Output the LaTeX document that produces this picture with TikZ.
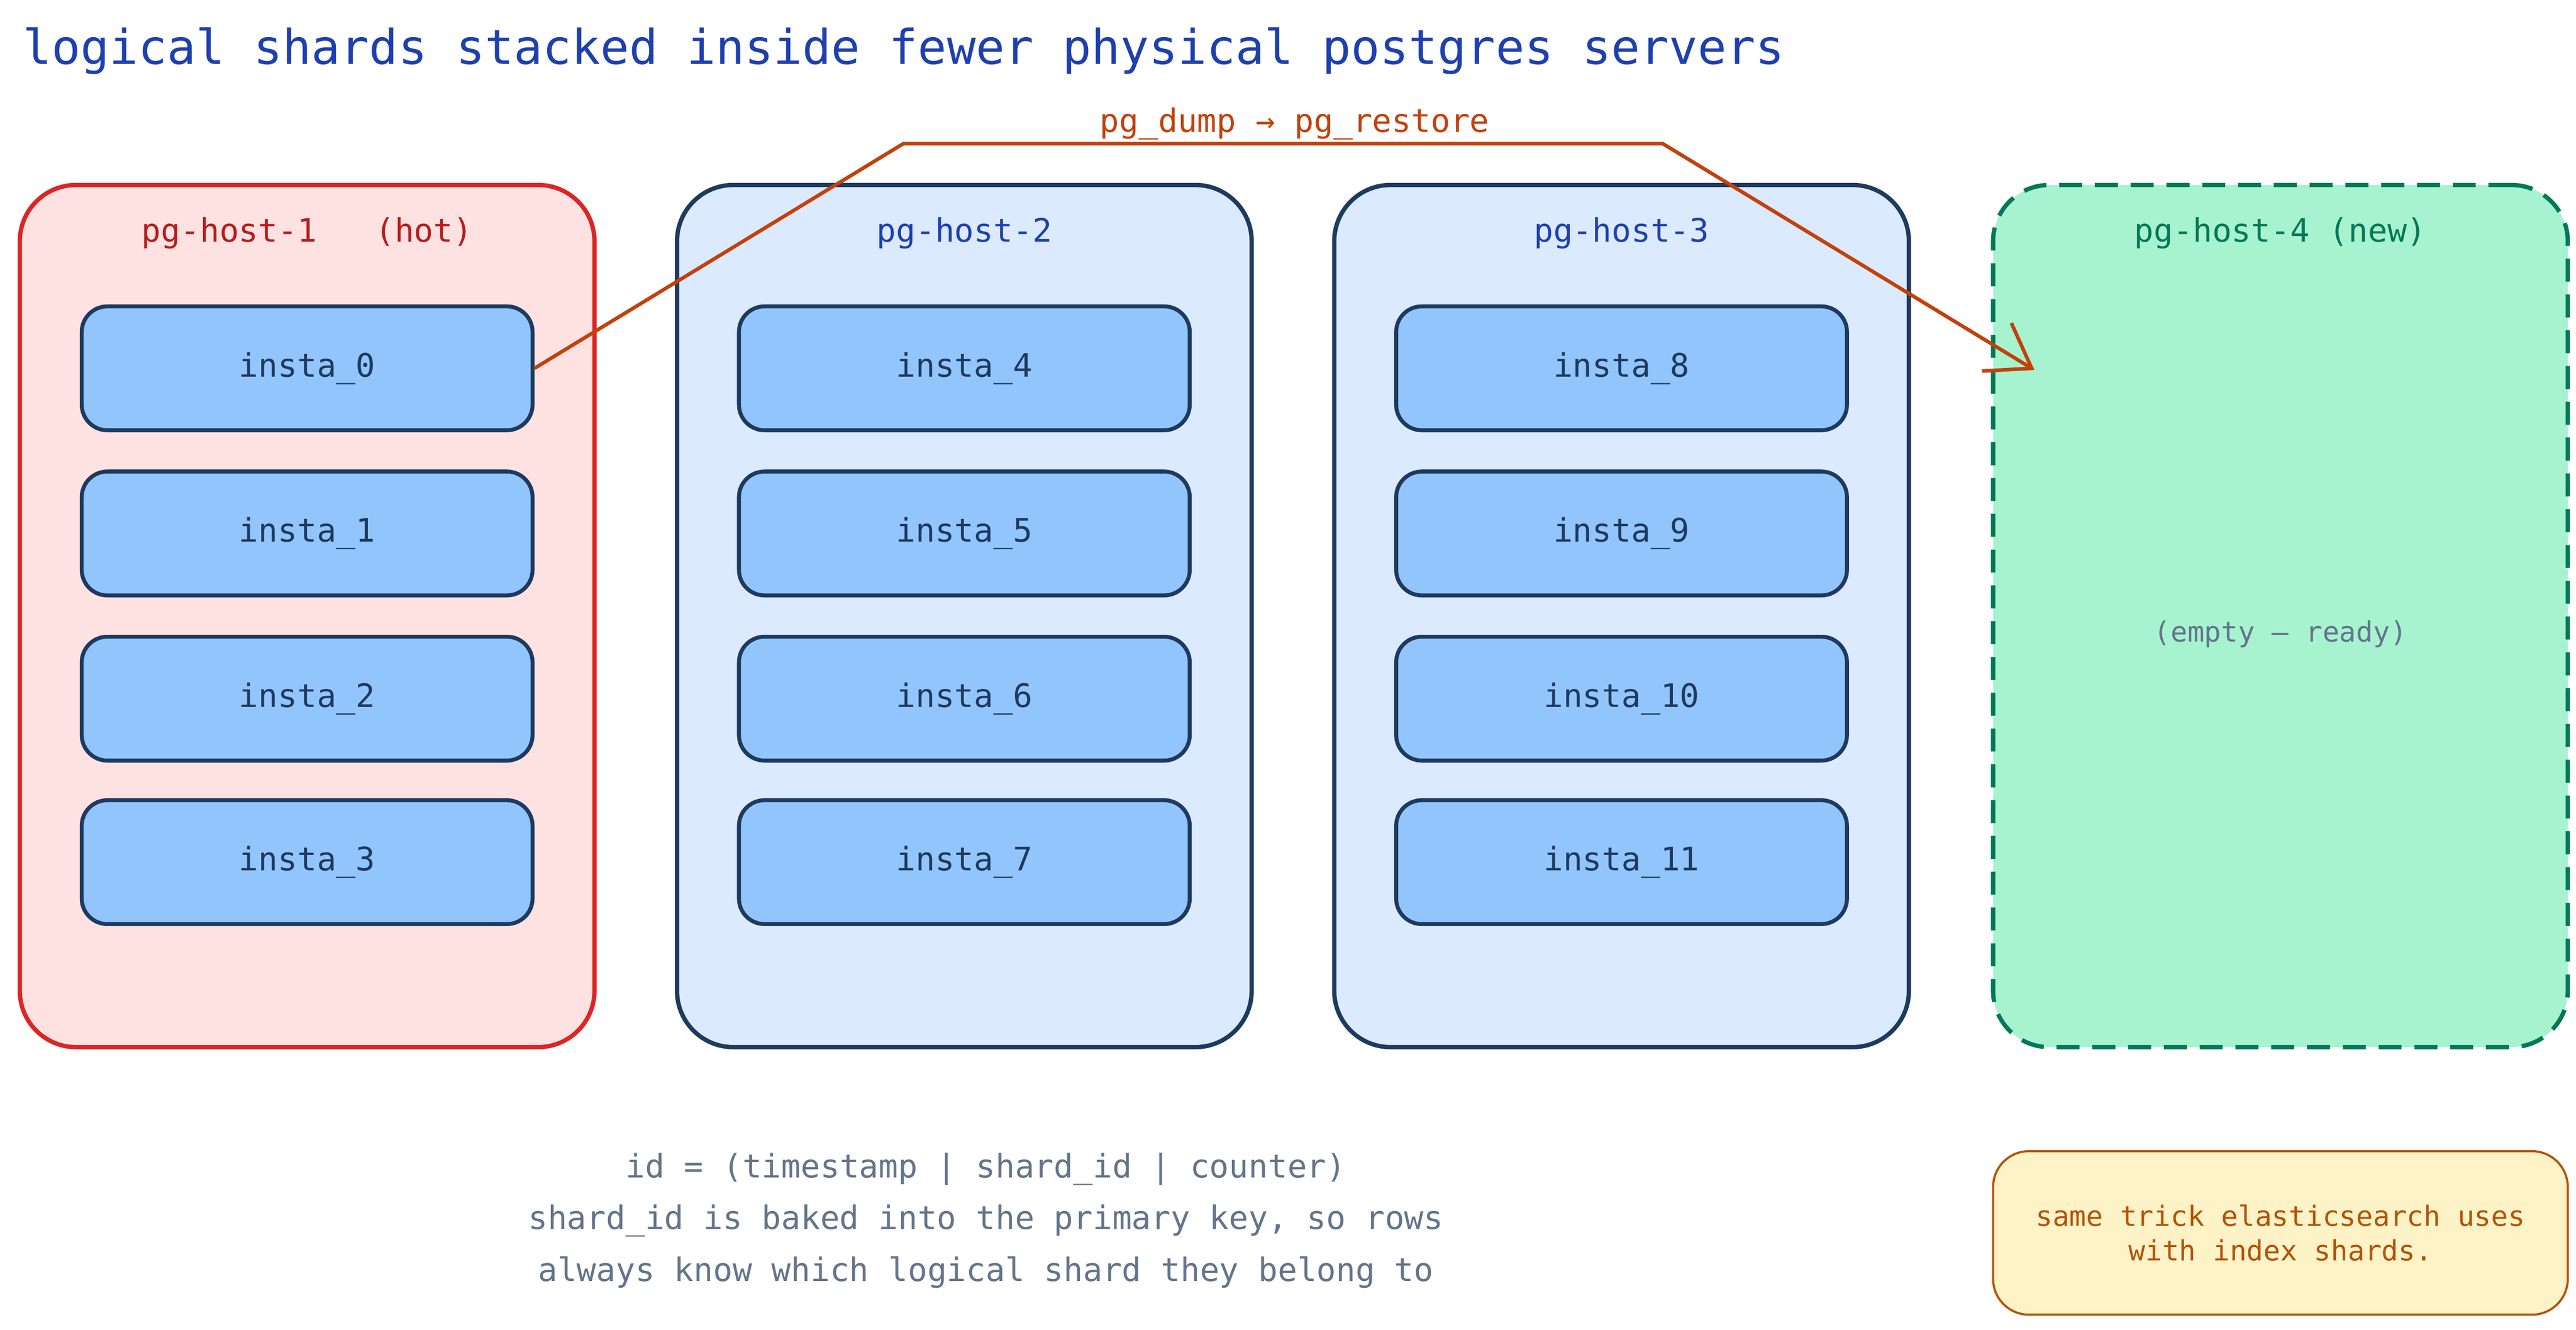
\documentclass[tikz,border=0pt]{standalone}
\usepackage{fontspec}
\setmainfont{DejaVu Sans Mono}
\usetikzlibrary{arrows.meta}
\definecolor{navy}{HTML}{1E3A5F}
\definecolor{ttl}{HTML}{1E40AF}
\definecolor{hotf}{HTML}{FEE2E2}\definecolor{hots}{HTML}{DC2626}\definecolor{hott}{HTML}{B91C1C}
\definecolor{hf}{HTML}{DBEAFE}\definecolor{inf}{HTML}{93C5FD}
\definecolor{newf}{HTML}{A7F3D0}\definecolor{news}{HTML}{047857}
\definecolor{arr}{HTML}{C2410C}\definecolor{gry}{HTML}{64748B}
\definecolor{notef}{HTML}{FEF3C7}\definecolor{notes}{HTML}{B45309}
\begin{document}
\begin{tikzpicture}[x=0.0323cm,y=-0.0323cm,
 host/.style={draw=navy,fill=hf,line width=2.4pt,rounded corners=1.1cm,minimum width=348*0.0323cm,minimum height=522*0.0323cm,inner sep=0},
 shard/.style={draw=navy,fill=inf,line width=2.2pt,rounded corners=0.5cm,minimum width=273*0.0323cm,minimum height=75*0.0323cm,inner sep=0,text=navy,font=\fontsize{18}{20}\selectfont},
 hl/.style={font=\fontsize{18}{20}\selectfont,text=ttl}]
\useasboundingbox (0,0) rectangle (1560,805);
\node[anchor=west,text=ttl,font=\fontsize{26.7}{30}\selectfont] (title) at (10,31) {logical shards stacked inside fewer physical postgres servers};
\node[host,draw=hots,fill=hotf] (h1) at (186,373) {};
\node[host] (h2) at (584,373) {};
\node[host] (h3) at (982,373) {};
\node[host,draw=news,fill=newf,dashed,dash pattern=on 0.45cm off 0.25cm] (h4) at (1381,373) {};
\node[hl,text=hott] (l1) at (186,141) {pg-host-1\ \ \ (hot)};
\node[hl] (l2) at (584,141) {pg-host-2};
\node[hl] (l3) at (982,141) {pg-host-3};
\node[hl,text=news] (l4) at (1381,141) {pg-host-4 (new)};
\foreach \c/\hx in {0/186,1/584,2/982}{
 \foreach \r/\yy in {0/223,1/323,2/423,3/522}{
  \pgfmathtruncatemacro\n{\c*4+\r}
  \node[shard] (s\n) at (\hx,\yy) {insta\_\n};
 }}
\node[text=gry,font=\fontsize{15.6}{18}\selectfont] (empty) at (1381,384) {(empty — ready)};
\coordinate (tgt) at (1232,224);
\draw[arr,line width=2pt,-{Straight Barb[length=0.8cm,width=1.1cm]}] (s0.east) -- (547,87) -- (1007,87) -- (tgt);
\node[text=arr,font=\fontsize{18}{20}\selectfont] (al) at (784,75) {pg\_dump → pg\_restore};
\node[text=gry,font=\fontsize{18}{28.8}\selectfont,align=center] (info) at (597,739) {id = (timestamp | shard\_id | counter)\\shard\_id is baked into the primary key, so rows\\always know which logical shard they belong to};
\node[draw=notes,fill=notef,line width=1.2pt,rounded corners=0.7cm,minimum width=348*0.0323cm,minimum height=99*0.0323cm,text=notes,align=center,font=\fontsize{15.6}{19}\selectfont] (note) at (1381,746.5) {same trick elasticsearch uses\\with index shards.};
\end{tikzpicture}
\end{document}
